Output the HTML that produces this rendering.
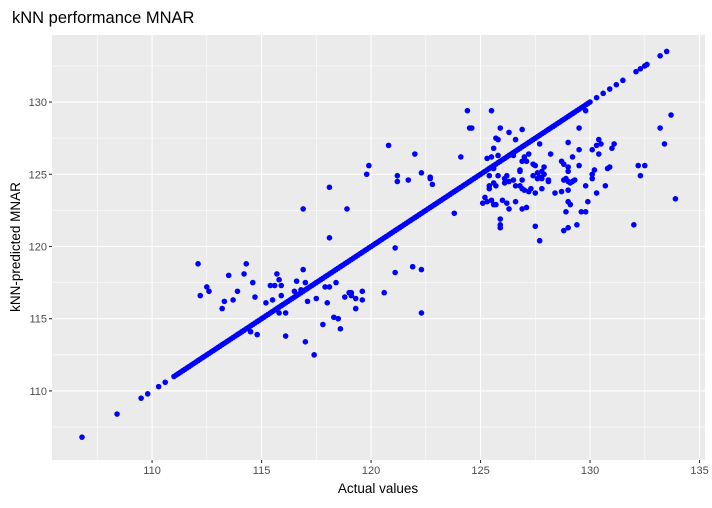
<!DOCTYPE html>
<html><head><meta charset="utf-8"><style>
body{margin:0;background:#fff;font-family:"Liberation Sans",Arial,sans-serif}
svg text{font-family:"Liberation Sans",Arial,sans-serif}
</style></head><body>
<svg id="chart" width="712" height="503" xmlns="http://www.w3.org/2000/svg">
<text x="12" y="23" font-size="16.5" fill="#000">kNN performance MNAR</text>
<rect x="52" y="35" width="653" height="425" fill="#EBEBEB"/>
<g id="grid"></g><g id="pts"></g><g id="axes"></g>
<text x="378" y="493" font-size="13.5" text-anchor="middle" fill="#000">Actual values</text>
<text transform="translate(20,247) rotate(-90)" font-size="13.5" text-anchor="middle" fill="#000">kNN-predicted MNAR</text>
</svg>
<script>
const xTicks=[110,115,120,125,130,135];
const yTicks=[110,115,120,125,130];
const onLine=[106.8,108.4,109.5,109.8,110.3,110.6,111.1,111.3,111.5,111.7,111.9,112.1,112.3,112.5,112.7,112.9,113.1,113.3,113.5,113.7,113.9,114.1,114.3,114.5,114.7,114.9,115.1,115.3,115.5,115.7,115.9,116.1,116.3,116.5,116.7,116.9,117.1,117.3,117.5,117.7,117.9,118.1,118.3,118.5,118.7,118.9,119.1,119.3,119.5,119.7,119.9,120.1,120.3,120.5,120.7,120.9,121.1,121.3,121.5,121.7,121.9,122.1,122.3,122.5,122.7,122.9,123.1,123.3,123.5,123.7,123.9,124.1,124.3,124.5,124.7,124.9,125.1,125.3,125.5,125.7,125.9,126.1,126.3,126.5,126.7,126.9,127.1,127.3,127.5,127.7,127.9,128.1,128.3,128.5,128.7,128.9,129.1,129.3,129.5,129.7,129.9,130.3,130.6,130.9,131.2,131.5,132.1,132.3,132.5,132.6,133.2,133.5];
const onLineB=[111.0,111.2,111.4,111.6,111.8,112.0,112.2,112.4,112.6,112.8,113.0,113.2,113.4,113.6,113.8,114.0,114.2,114.4,114.6,114.8,115.0,115.2,115.4,115.6,115.8,116.0,116.2,116.4,116.6,116.8,117.0,117.2,117.4,117.6,117.8,118.0,118.2,118.4,118.6,118.8,119.0,119.2,119.4,119.6,119.8,120.0,120.2,120.4,120.6,120.8,121.0,121.2,121.4,121.6,121.8,122.0,122.2,122.4,122.6,122.8,123.0,123.2,123.4,123.6,123.8,124.0,124.2,124.4,124.6,124.8,125.0,125.2,125.4,125.6,125.8,126.0,126.2,126.4,126.6,126.8,127.0,127.2,127.4,127.6,127.8,128.0,128.2,128.4,128.6,128.8,129.0,129.2,129.4,129.6,129.8,130.0];
const actual=[112.1,112.5,112.6,112.2,113.5,114.3,114.2,114.6,113.9,113.3,113.7,113.2,114.7,115.2,115.5,115.4,115.6,115.7,115.8,115.9,115.9,115.8,116.1,114.8,114.5,116.1,116.9,116.6,117.0,116.5,116.8,117.1,117.0,117.4,117.5,117.8,117.9,118.1,118.4,118.0,118.3,118.5,118.6,118.8,119.0,119.1,119.1,119.3,119.3,119.6,119.6,118.1,118.1,116.9,118.9,119.8,121.1,121.1,120.6,121.9,122.3,122.3,121.2,121.2,121.7,122.3,122.7,122.7,122.8,119.9,120.8,122.0,
124.4,125.5,124.5,124.6,124.1,123.8,125.9,126.3,126.9,125.7,125.8,126.6,125.6,125.3,125.5,125.8,125.6,126.5,127.2,127.0,126.9,127.1,127.7,129.0,129.5,129.8,128.2,129.5,129.2,130.1,130.4,130.3,130.5,130.4,131.1,131.0,133.2,133.7,133.4,132.2,132.5,132.3,133.9,132.0,125.4,125.8,126.2,126.1,126.1,126.3,126.5,125.4,125.4,125.6,125.7,126.8,126.8,126.9,126.6,126.8,126.9,127.0,127.2,127.3,127.4,127.5,127.9,127.4,127.6,127.7,127.8,127.9,127.8,127.6,128.1,128.1,127.8,127.5,128.4,128.7,129.0,128.7,128.8,129.0,129.0,128.8,128.9,129.0,129.1,129.3,129.2,129.5,130.1,130.2,130.1,129.8,130.3,130.7,130.8,130.9,129.9,129.0,129.1,129.6,129.8,128.9,129.4,129.0,128.8,125.2,125.1,125.3,125.5,125.6,125.7,126.0,126.2,126.6,126.3,126.9,127.1,125.9,125.9,125.9,127.5,127.7];
const predicted=[118.8,117.2,116.9,116.6,118.0,118.8,118.1,117.5,116.9,116.2,116.3,115.7,116.5,116.1,116.3,117.3,117.3,118.1,117.7,117.3,116.6,115.4,115.4,113.9,114.1,113.8,118.4,117.6,117.5,116.9,117.0,116.2,113.4,112.5,116.4,114.6,117.2,117.2,117.5,116.1,115.1,115.0,114.3,116.5,116.8,116.8,116.6,116.4,115.7,116.9,116.3,120.6,124.1,122.6,122.6,125.0,119.9,118.2,116.8,118.6,118.4,115.4,124.9,124.5,124.6,125.1,124.7,124.8,124.3,125.6,127.0,126.4,
129.4,129.4,128.2,128.2,126.2,122.3,128.2,127.9,128.1,127.5,127.4,127.4,126.8,126.1,126.2,126.3,125.4,126.3,126.4,126.2,125.9,125.9,127.1,127.2,128.2,129.4,126.4,126.7,126.2,126.7,127.4,127.0,127.1,126.4,127.1,126.8,128.2,129.1,127.1,125.6,125.6,124.9,123.3,121.5,124.9,124.9,124.9,124.7,124.4,124.5,124.6,124.2,124.0,124.4,124.2,125.2,125.3,124.6,124.2,124.2,124.0,123.9,123.8,124.0,125.7,125.6,125.5,124.9,125.1,124.8,125.2,125.0,124.7,124.7,124.6,124.5,124.0,123.7,123.7,123.8,123.9,125.9,125.7,125.5,125.2,124.6,124.7,124.5,124.4,124.6,124.5,125.6,125.0,125.3,124.7,124.2,123.7,124.2,125.4,125.5,123.1,123.1,122.9,122.4,122.4,122.4,121.5,121.3,121.1,123.4,123.0,123.1,123.2,122.9,122.9,123.2,123.0,123.1,122.6,122.6,122.7,121.9,121.5,121.3,121.4,120.4];
const X0=52,X1=705,Y0=35,Y1=460,xMin=105.43,xMax=135.25,yMin=105.22,yMax=134.64;
const sx=v=>X0+(v-xMin)/(xMax-xMin)*(X1-X0);
const sy=v=>Y1-(v-yMin)/(yMax-yMin)*(Y1-Y0);
const NS="http://www.w3.org/2000/svg";
const grid=document.getElementById('grid'),axes=document.getElementById('axes'),pts=document.getElementById('pts');
function ln(g,x1,y1,x2,y2,w){const l=document.createElementNS(NS,'line');l.setAttribute('x1',x1);l.setAttribute('y1',y1);l.setAttribute('x2',x2);l.setAttribute('y2',y2);l.setAttribute('stroke','#fff');l.setAttribute('stroke-width',w);g.appendChild(l);return l;}
xTicks.forEach((t,i)=>{
  const mi=ln(grid,sx(t-2.5),Y0,sx(t-2.5),Y1,0.55);
  
  
  const l=ln(grid,sx(t),Y0,sx(t),Y1,1.1);
  
  
  const tk=ln(axes,sx(t),Y1,sx(t),Y1+3,1.1);tk.setAttribute('stroke','#333');
  
  
  const tx=document.createElementNS(NS,'text');tx.setAttribute('x',sx(t));tx.setAttribute('y',Y1+14);tx.setAttribute('font-size','11');tx.setAttribute('fill','#4D4D4D');tx.setAttribute('text-anchor','middle');tx.textContent=t;
  
  
  axes.appendChild(tx);
});
yTicks.forEach(t=>{
  const mi=ln(grid,X0,sy(t-2.5),X1,sy(t-2.5),0.55);
  
  
  const l=ln(grid,X0,sy(t),X1,sy(t),1.1);
  
  
  const tk=ln(axes,X0-3,sy(t),X0,sy(t),1.1);tk.setAttribute('stroke','#333');
  
  
  const tx=document.createElementNS(NS,'text');tx.setAttribute('x',X0-5);tx.setAttribute('y',sy(t)+4);tx.setAttribute('font-size','11');tx.setAttribute('fill','#4D4D4D');tx.setAttribute('text-anchor','end');tx.textContent=t;
  
  
  axes.appendChild(tx);
});
{const mi=ln(grid,X0,sy(132.5),X1,sy(132.5),0.55);}
function dot(a,p){const c=document.createElementNS(NS,'circle');c.setAttribute('cx',sx(a));c.setAttribute('cy',sy(p));c.setAttribute('r','2.8');c.setAttribute('fill','#0000FF');
  
  
  pts.appendChild(c);}
onLine.forEach(v=>dot(v,v));
onLineB.forEach(v=>dot(v,v));
actual.forEach((a,i)=>dot(a,predicted[i]));
</script>
</body></html>
